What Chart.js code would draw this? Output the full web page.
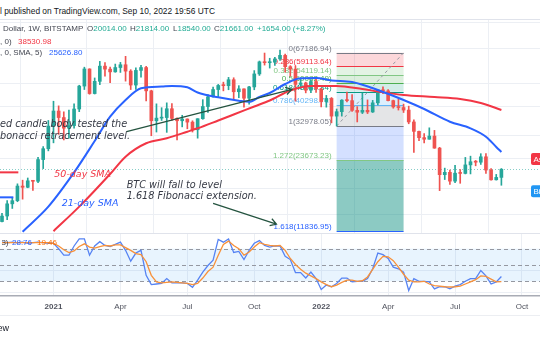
<!DOCTYPE html>
<html>
<head>
<meta charset="utf-8">
<script src="https://cdn.jsdelivr.net/npm/chart.js@4.4.0/dist/chart.umd.min.js"></script>
<style>
  html, body { margin: 0; padding: 0; background: #fff; }
  #wrap { position: relative; width: 540px; height: 340px; overflow: hidden; background: #fff;
          font-family: "Liberation Sans", Arial, sans-serif; }
  .pane { position: absolute; left: 0; width: 540px; }
  #pricePane { top: 20px; height: 213px; }
  #stochPane { top: 233px; height: 83px; }
  .t { position: absolute; white-space: nowrap; font-size: 8px; line-height: 10px; color: #434651; z-index: 2; }
  .up { color: #22ab94; }
  .rule { position: absolute; left: 0; width: 540px; height: 1px; background: #e0e3eb; }
</style>
</head>
<body>
<div id="wrap">
  <div class="t" style="left:0;top:6px;font-size:8.4px;color:#131722">l published on TradingView.com, Sep 10, 2022 19:56 UTC</div>
  <div class="rule" style="top:19px"></div>
  <div class="pane" id="pricePane"><canvas id="chart-price"></canvas></div>
  <div class="pane" id="stochPane"><canvas id="chart-stoch"></canvas></div>
  <div class="t" style="left:3px;top:24px">Dollar, 1W, BITSTAMP</div>
  <div class="t" style="left:87px;top:24px">O<span class="up">20014.00</span></div>
  <div class="t" style="left:130px;top:24px">H<span class="up">21814.00</span></div>
  <div class="t" style="left:173px;top:24px">L<span class="up">18540.00</span></div>
  <div class="t" style="left:214px;top:24px">C<span class="up">21661.00</span></div>
  <div class="t up" style="left:257px;top:24px">+1654.00 (+8.27%)</div>
  <div class="t" style="left:0;top:37px">, 0)</div>
  <div class="t" style="left:18px;top:37px;color:#f23645">38530.98</div>
  <div class="t" style="left:0;top:48px">, 0, SMA, 5)</div>
  <div class="t" style="left:49px;top:48px;color:#2962ff">25626.80</div>
  <div class="rule" style="top:315px;background:#eceef2"></div>
  <div class="t" style="right:531px;top:323px;font-size:9px;color:#131722;text-align:right">TradingView</div>
</div>

<script>
// weekly candles, BTC/USD Bitstamp, week 0 = 26 Oct 2020 ... week 97 = 5 Sep 2022
const opens = [
  13030, 13750, 15480, 15960, 18400, 18180, 19360, 19270, 23800, 26450,
  32950, 38150, 35800, 32280, 33100, 38900, 48600, 57400, 45200, 50900,
  59000, 57300, 55800, 58200, 59800, 56200, 49100, 56600, 58200, 46400,
  34700, 35600, 35800, 39000, 35500, 34700, 35300, 34250, 31800, 35400,
  39850, 43800, 47000, 48900, 48800, 51700, 46000, 47300, 43200, 48200,
  54700, 61500, 61000, 61300, 63300, 65500, 58700, 57300, 49400, 50100,
  46700, 50800, 47300, 41800, 43100, 36300, 37900, 42400, 42200, 38400,
  37700, 38400, 37800, 41300, 46800, 46400, 42200, 39700, 39450, 38500,
  34300, 31300, 29450, 29000, 29900, 26600, 20550, 21030, 19300, 20850,
  20800, 22600, 23300, 23200, 24450, 21500, 19550, 20014,
];
const highs = [
  14100, 15960, 16480, 18800, 19480, 19900, 19410, 24300, 27000, 34800,
  41950, 40100, 37850, 38500, 40950, 49000, 58400, 57500, 52600, 61800,
  61000, 58500, 60200, 61200, 64900, 57000, 58000, 59500, 58900, 46700,
  40900, 39400, 41300, 41000, 35700, 36600, 35350, 34700, 35400, 42600,
  44800, 48100, 49400, 50500, 52900, 52700, 48800, 47300, 48500, 56500,
  62000, 67000, 63700, 64300, 69000, 66400, 59300, 59100, 51900, 50500,
  51800, 52100, 47500, 44400, 43500, 38900, 42600, 45800, 44700, 39800,
  45400, 42500, 42300, 46900, 48200, 47000, 42400, 42900, 40800, 40000,
  35000, 31400, 30600, 32400, 31600, 26800, 21900, 21500, 22500, 21600,
  24300, 24600, 23600, 25200, 25200, 21800, 20600, 21814,
];
const lows = [
  12980, 13280, 14800, 15800, 16200, 18100, 17620, 19000, 21800, 25900,
  28000, 30400, 28800, 29300, 32300, 37900, 47000, 44900, 45000, 49300,
  53500, 50300, 55600, 55500, 51000, 47000, 47000, 53000, 42100, 30000,
  31100, 34800, 31000, 34800, 28800, 32700, 32100, 31100, 29300, 35200,
  37600, 43600, 43900, 46400, 46900, 43000, 43400, 39600, 40800, 46900,
  53900, 59600, 57900, 59400, 62300, 55600, 53500, 42000, 47200, 45500,
  45600, 45700, 39700, 39600, 34000, 32980, 36300, 41700, 38000, 34300,
  37200, 37200, 37600, 40500, 45200, 42100, 39200, 38500, 37600, 33700,
  25500, 28600, 28000, 29000, 26550, 17600, 19600, 18700, 19000, 18900,
  20700, 20700, 22400, 22700, 20800, 19500, 19500, 18540,
];
const closes = [
  13750, 15480, 15960, 18400, 18180, 19360, 19270, 23800, 26450, 32950,
  38150, 35800, 32280, 33100, 38900, 48600, 57400, 45200, 50900, 59000,
  57300, 55800, 58200, 59800, 56200, 49100, 56600, 58200, 46400, 34700,
  35600, 35800, 39000, 35500, 34700, 35300, 34250, 31800, 35400, 39850,
  43800, 47000, 48900, 48800, 51700, 46000, 47300, 43200, 48200, 54700,
  61500, 61000, 61300, 63300, 65500, 58700, 57300, 49400, 50100, 46700,
  50800, 47300, 41800, 43100, 36300, 37900, 42400, 42200, 38400, 37700,
  38400, 37800, 41300, 46800, 46400, 42200, 39700, 39450, 38500, 34300,
  31300, 29450, 29000, 29900, 26600, 20550, 21030, 19300, 20850, 20800,
  22600, 23300, 23200, 24450, 21500, 19550, 20014, 21661,
];

// moving averages (week, price)
const sma21Weeks = [4, 9, 14, 18, 21, 24, 27, 31, 33, 36, 38, 42, 46, 48, 50, 52, 55, 58, 61, 64, 68, 73, 78, 82, 87, 91, 94, 96, 97];
const sma21Values = [11810, 15060, 21000, 28500, 36090, 42450, 47570, 48410, 48650, 48030, 45660, 43590, 42170, 41720, 43720, 45440, 49590, 52420, 52570, 51310, 50580, 46790, 42450, 38900, 34380, 32250, 29720, 26900, 25627];
const sma50Weeks = [10, 15, 21, 24, 28, 32, 36, 38, 42, 45, 49, 52, 56, 60, 65, 70, 73, 78, 84, 89, 93, 97];
const sma50Values = [11870, 15060, 20690, 24480, 27880, 29260, 31200, 32250, 34790, 36870, 39860, 42250, 46560, 48650, 48650, 47240, 46110, 44560, 43700, 42870, 41240, 38531];

// stochastic RSI, one value per week
const stochK = [
  92, 91, 92, 91, 92, 90, 91, 92, 91, 90,
  90, 80, 68, 68, 85, 98, 98, 68, 85, 93,
  86, 84, 88, 92, 77, 57, 72, 77, 31, 14,
  15, 16, 25, 17, 17, 17, 16, 9, 22, 37,
  49, 59, 97, 92, 98, 73, 75, 60, 77, 90,
  95, 86, 83, 85, 85, 66, 60, 36, 36, 26,
  37, 25, 5, 13, 10, 16, 26, 26, 19, 20,
  20, 25, 43, 72, 69, 62, 46, 43, 37, 3,
  25, 20, 20, 19, 6, 10, 10, 6, 11, 14,
  20, 25, 25, 40, 30, 15, 19, 28.76,
];
const stochD = [
  91, 91, 91, 91, 91, 91, 91, 91, 91, 91,
  90, 85, 78, 73, 76, 84, 89, 83, 81, 84,
  86, 85, 87, 87, 82, 77, 71, 69, 56, 31,
  19, 17, 18, 19, 18, 17, 16, 14, 16, 26,
  38, 46, 68, 88, 94, 86, 80, 68, 74, 83,
  91, 88, 86, 85, 86, 77, 62, 51, 42, 35,
  30, 25, 19, 14, 10, 13, 18, 22, 22, 20,
  21, 28, 42, 56, 66, 65, 58, 46, 33, 22,
  19, 19, 20, 15, 12, 11, 10, 9.5, 10, 11,
  15, 19, 23, 30, 29, 24, 19, 19.46,
];

// fibonacci drawing
const fibRatios = [0, 0.236, 0.382, 0.5, 0.618, 0.786, 1, 1.272, 1.618];
const fibPrices = [67186.94, 59113.64, 54119.14, 50082.49, 46045.84, 40298.71, 32978.05, 23673.23, 11836.95];
const fibWeeks = [65, 78];

// time axis
const tickWeeks = [10, 23, 36, 49, 62, 75, 88, 101];
const tickLabels = ["2021", "Apr", "Jul", "Oct", "2022", "Apr", "Jul", "Oct"];
const priceGrid = [14000, 18000, 24000, 30000, 40000, 50000, 70000, 90000];
const askPrice = 23930;
const bidPrice = 17490;

const X_MIN = -0.39, X_MAX = 104.5;
const GRID = "#eceff4";
const UP = "#26a69a", DOWN = "#ef5350";

const fibColors = ["#787b86", "#f23645", "#81c784", "#4caf50", "#089981", "#64b5f6", "#787b86", "#81c784", "#2962ff"];
const fibFills = [
  "rgba(242,54,69,0.2)", "rgba(129,199,132,0.22)", "rgba(76,175,80,0.2)", "rgba(8,153,129,0.18)",
  "rgba(100,181,246,0.22)", "rgba(120,123,134,0.2)", "rgba(41,98,255,0.2)", "rgba(0,137,123,0.45)",
];

function drawArrow(ctx, x1, y1, x2, y2) {
  const a = Math.atan2(y2 - y1, x2 - x1);
  const len = 7;
  ctx.beginPath();
  ctx.moveTo(x1, y1);
  ctx.lineTo(x2, y2);
  ctx.moveTo(x2 - len * Math.cos(a - 0.55), y2 - len * Math.sin(a - 0.55));
  ctx.lineTo(x2, y2);
  ctx.lineTo(x2 - len * Math.cos(a + 0.55), y2 - len * Math.sin(a + 0.55));
  ctx.stroke();
}

const fibPlugin = {
  id: "fib",
  beforeDatasetsDraw(chart) {
    const { ctx, scales: { x, y }, chartArea } = chart;
    const x1 = x.getPixelForValue(fibWeeks[0]);
    const x2 = x.getPixelForValue(fibWeeks[1]);
    ctx.save();
    for (let k = 0; k < fibFills.length; k++) {
      const ya = y.getPixelForValue(fibPrices[k]);
      const yb = y.getPixelForValue(fibPrices[k + 1]);
      ctx.fillStyle = fibFills[k];
      ctx.fillRect(x1, ya, x2 - x1, yb - ya);
    }
    ctx.lineWidth = 1;
    ctx.font = "8px 'Liberation Sans'";
    ctx.textAlign = "right";
    ctx.textBaseline = "bottom";
    fibPrices.forEach((p, k) => {
      const yy = Math.round(y.getPixelForValue(p)) + 0.5;
      ctx.strokeStyle = fibColors[k];
      ctx.beginPath();
      ctx.moveTo(x1, yy);
      ctx.lineTo(x2, yy);
      ctx.stroke();
      ctx.fillStyle = fibColors[k];
      ctx.fillText(String(fibRatios[k]) + "(" + p.toFixed(2) + ")", x1 - 5, yy - 1);
    });
    // anchor line of the retracement
    ctx.strokeStyle = "#9598a1";
    ctx.setLineDash([3, 3]);
    ctx.beginPath();
    ctx.moveTo(x1, y.getPixelForValue(fibPrices[6]));
    ctx.lineTo(x2, y.getPixelForValue(fibPrices[0]));
    ctx.stroke();
    // last price line
    const yLast = Math.round(y.getPixelForValue(closes[closes.length - 1])) + 0.5;
    ctx.strokeStyle = "rgba(38,166,154,0.55)";
    ctx.setLineDash([1, 2]);
    ctx.beginPath();
    ctx.moveTo(chartArea.left, yLast);
    ctx.lineTo(chartArea.right, yLast);
    ctx.stroke();
    ctx.restore();
  },
};

const notesPlugin = {
  id: "notes",
  afterDatasetsDraw(chart) {
    const { ctx, scales: { x, y } } = chart;
    ctx.save();
    // trend lines with arrows (week, price)
    ctx.strokeStyle = "#24533f";
    ctx.lineWidth = 1.3;
    drawArrow(ctx, x.getPixelForValue(24.2), y.getPixelForValue(31190), x.getPixelForValue(56.3), y.getPixelForValue(47050));
    drawArrow(ctx, x.getPixelForValue(41.0), y.getPixelForValue(15560), x.getPixelForValue(53.3), y.getPixelForValue(12720));

    // short leader lines at the left edge
    ctx.lineWidth = 2;
    ctx.strokeStyle = "#f23645";
    ctx.beginPath();
    ctx.moveTo(x.getPixelForValue(X_MIN), y.getPixelForValue(21020));
    ctx.lineTo(x.getPixelForValue(3.17), y.getPixelForValue(21020));
    ctx.stroke();
    ctx.strokeStyle = "#2962ff";
    ctx.beginPath();
    ctx.moveTo(x.getPixelForValue(X_MIN), y.getPixelForValue(16490));
    ctx.lineTo(x.getPixelForValue(2.2), y.getPixelForValue(16490));
    ctx.stroke();

    // text notes
    ctx.textAlign = "left";
    ctx.textBaseline = "middle";
    ctx.font = "italic 9.7px 'DejaVu Sans'";
    ctx.fillStyle = "#363a45";
    ctx.fillText("ed candle body tested the", 0, 104);
    ctx.fillText("bonacci retracement level.", 0, 116.7);
    ctx.fillText("BTC will fall to level", 126.7, 165.7);
    ctx.fillText("1.618 Fibonacci extension.", 126.7, 176.7);
    ctx.font = "italic 9.5px 'DejaVu Sans'";
    ctx.fillStyle = "#f23645";
    ctx.fillText("50-day SMA", 54.3, 155);
    ctx.fillStyle = "#2962ff";
    ctx.fillText("21-day SMA", 61.7, 184);

    // price tags cut by the right edge
    ctx.font = "8px 'Liberation Sans'";
    [[askPrice, "#f23645", "Ask"], [bidPrice, "#2196f3", "Bid"]].forEach(([p, c, s]) => {
      const yy = y.getPixelForValue(p);
      ctx.fillStyle = c;
      ctx.beginPath();
      ctx.roundRect(531, yy - 6, 20, 12, 2);
      ctx.fill();
      ctx.fillStyle = "#fff";
      ctx.fillText(s, 533.5, yy + 0.5);
    });
    ctx.restore();
  },
};

const candleColors = closes.map((c, i) => (c >= opens[i] ? UP : DOWN));

new Chart(document.getElementById("chart-price"), {
  type: "bar",
  data: {
    datasets: [
      {
        type: "line",
        label: "SMA 21",
        data: sma21Weeks.map((w, k) => ({ x: w, y: sma21Values[k] })),
        borderColor: "#2962ff",
        borderWidth: 2,
        pointRadius: 0,
        cubicInterpolationMode: "monotone",
        order: 0,
      },
      {
        type: "line",
        label: "SMA 50",
        data: sma50Weeks.map((w, k) => ({ x: w, y: sma50Values[k] })),
        borderColor: "#f23645",
        borderWidth: 2,
        pointRadius: 0,
        cubicInterpolationMode: "monotone",
        order: 0,
      },
      {
        label: "body",
        data: opens.map((o, i) => ({ x: i, y: [o, closes[i]] })),
        backgroundColor: candleColors,
        barThickness: 3,
        minBarLength: 1,
        grouped: false,
        order: 1,
      },
      {
        label: "wick",
        data: lows.map((l, i) => ({ x: i, y: [l, highs[i]] })),
        backgroundColor: candleColors,
        barThickness: 1,
        grouped: false,
        order: 2,
      },
    ],
  },
  options: {
    responsive: true,
    maintainAspectRatio: false,
    animation: false,
    layout: { padding: 0 },
    plugins: { legend: { display: false }, tooltip: { enabled: false } },
    scales: {
      x: {
        type: "linear",
        min: X_MIN,
        max: X_MAX,
        offset: false,
        grid: { color: GRID, drawTicks: false },
        border: { display: false },
        ticks: { display: false },
        afterBuildTicks: (s) => { s.ticks = tickWeeks.map((v) => ({ value: v })); },
        afterFit: (s) => { s.height = 0; },
      },
      y: {
        type: "logarithmic",
        position: "right",
        min: 11660,
        max: 92370,
        grid: { color: GRID, drawTicks: false },
        border: { display: false },
        ticks: { display: false },
        afterBuildTicks: (s) => { s.ticks = priceGrid.map((v) => ({ value: v })); },
        afterFit: (s) => { s.width = 0; },
      },
    },
  },
  plugins: [fibPlugin, notesPlugin],
});

const bandPlugin = {
  id: "band",
  beforeDatasetsDraw(chart) {
    const { ctx, scales: { y }, chartArea } = chart;
    const y80 = y.getPixelForValue(80), y50 = y.getPixelForValue(50), y20 = y.getPixelForValue(20);
    ctx.save();
    ctx.fillStyle = "rgba(33,150,243,0.1)";
    ctx.fillRect(chartArea.left, y80, chartArea.right - chartArea.left, y20 - y80);
    ctx.strokeStyle = "#9598a1";
    ctx.lineWidth = 1;
    ctx.setLineDash([4, 3]);
    [y80, y50, y20].forEach((yy) => {
      ctx.beginPath();
      ctx.moveTo(chartArea.left, Math.round(yy) + 0.5);
      ctx.lineTo(chartArea.right, Math.round(yy) + 0.5);
      ctx.stroke();
    });
    ctx.setLineDash([]);
    ctx.strokeStyle = "#e0e3eb";
    ctx.beginPath();
    ctx.moveTo(chartArea.left, chartArea.top + 0.5);
    ctx.lineTo(chartArea.right, chartArea.top + 0.5);
    ctx.stroke();
    ctx.restore();
  },
  afterDatasetsDraw(chart) {
    const { ctx, chartArea } = chart;
    const yy = chartArea.top + 10;
    ctx.save();
    ctx.font = "8px 'Liberation Sans'";
    ctx.textBaseline = "middle";
    ctx.textAlign = "right";
    ctx.fillStyle = "#434651";
    ctx.fillText("3, 3)", 8.5, yy);
    ctx.textAlign = "left";
    ctx.fillStyle = "#2962ff";
    ctx.fillText(stochK[stochK.length - 1].toFixed(2), 12, yy);
    ctx.fillStyle = "#ff6d00";
    ctx.fillText(stochD[stochD.length - 1].toFixed(2), 37, yy);
    ctx.restore();
  },
};

new Chart(document.getElementById("chart-stoch"), {
  type: "line",
  data: {
    datasets: [
      {
        label: "%D",
        data: stochD.map((v, i) => ({ x: i, y: v })),
        borderColor: "#f8913a",
        borderWidth: 1.3,
        pointRadius: 0,
        tension: 0,
      },
      {
        label: "%K",
        data: stochK.map((v, i) => ({ x: i, y: v })),
        borderColor: "#5683f3",
        borderWidth: 1.3,
        pointRadius: 0,
        tension: 0,
      },
    ],
  },
  options: {
    responsive: true,
    maintainAspectRatio: false,
    animation: false,
    layout: { padding: 0 },
    plugins: { legend: { display: false }, tooltip: { enabled: false } },
    scales: {
      x: {
        type: "linear",
        min: X_MIN,
        max: X_MAX,
        grid: { color: GRID, drawTicks: false },
        border: { display: true, color: "#a9acb5", width: 1.5 },
        ticks: {
          padding: 6,
          autoSkip: false,
          maxRotation: 0,
          color: "#50535e",
          font: (c) => ({ family: "Liberation Sans", size: 8, weight: /^\d{4}$/.test(tickLabels[c.index] || "") ? "bold" : "normal" }),
          callback: (v) => {
            const k = tickWeeks.indexOf(v);
            return k >= 0 ? tickLabels[k] : "";
          },
        },
        afterBuildTicks: (s) => { s.ticks = tickWeeks.map((v) => ({ value: v })); },
        afterFit: (s) => { s.height = 20; },
      },
      y: {
        min: -7.06,
        max: 108.9,
        grid: { color: GRID, drawTicks: false },
        border: { display: false },
        ticks: { display: false },
        afterBuildTicks: (s) => { s.ticks = [0, 40].map((v) => ({ value: v })); },
        afterFit: (s) => { s.width = 0; },
      },
    },
  },
  plugins: [bandPlugin],
});
</script>
</body>
</html>
